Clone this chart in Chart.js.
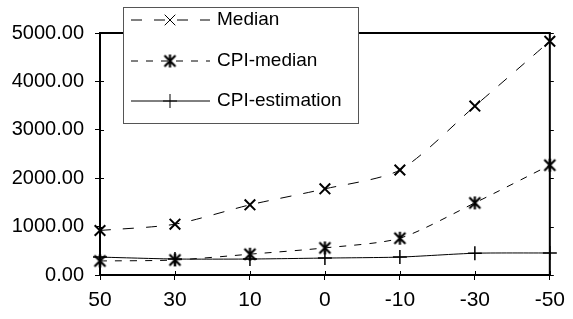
<!DOCTYPE html>
<html>
<head>
<meta charset="UTF-8">
<script src="https://cdn.jsdelivr.net/npm/chart.js"></script>
<style>
    body { margin: 0; background: #fff; }
    #wrap { width: 573px; height: 319px; }
</style>
</head>
<body>
<div id="wrap"><canvas id="c"></canvas></div>
<script>
    const xLabels = ['50', '30', '10', '0', '-10', '-30', '-50'];
    const medianVals = [920, 1050, 1450, 1780, 2170, 3490, 4830];
    const cpiMedianVals = [290, 310, 430, 560, 760, 1490, 2270];
    const cpiEstVals = [370, 330, 330, 350, 370, 450, 455];

    // asterisk marker: x with a vertical bar
    function asterisk() {
        const c = document.createElement('canvas');
        c.width = 15; c.height = 15;
        const g = c.getContext('2d');
        g.strokeStyle = '#000';
        g.lineWidth = 2.2;
        g.beginPath();
        g.moveTo(2, 2); g.lineTo(13, 13);
        g.moveTo(13, 2); g.lineTo(2, 13);
        g.moveTo(7.5, 1); g.lineTo(7.5, 14);
        g.stroke();
        return c;
    }

    // top/right frame and the small inner tick marks
    const frame = {
        id: 'frame',
        afterDatasetsDraw(chart) {
            const a = chart.chartArea, ctx = chart.ctx;
            const xs = chart.scales.x, ys = chart.scales.y;
            ctx.save();
            ctx.strokeStyle = '#000';
            ctx.lineWidth = 2;
            ctx.beginPath();
            ctx.moveTo(a.left, a.top);
            ctx.lineTo(a.right, a.top);
            ctx.lineTo(a.right, a.bottom);
            ctx.stroke();
            ctx.lineWidth = 1;
            ctx.beginPath();
            xs.ticks.forEach((t, i) => {
                const x = Math.round(xs.getPixelForTick(i)) + 0.5;
                ctx.moveTo(x, a.bottom);
                ctx.lineTo(x, a.bottom - 4);
            });
            ys.ticks.forEach((t, i) => {
                const y = Math.round(ys.getPixelForTick(i)) + 0.5;
                ctx.moveTo(a.left, y);
                ctx.lineTo(a.left + 4, y);
                ctx.moveTo(a.right, y);
                ctx.lineTo(a.right + 4, y);
            });
            ctx.stroke();
            ctx.restore();
        }
    };

    const boxLegend = {
        id: 'boxLegend',
        afterDraw(chart) {
            const ctx = chart.ctx;
            ctx.save();
            ctx.fillStyle = '#fff';
            ctx.fillRect(123, 7, 235, 116);
            ctx.strokeStyle = '#555';
            ctx.lineWidth = 1;
            ctx.strokeRect(123.5, 7.5, 235, 116);
            const rows = [20, 61, 101];
            chart.data.datasets.forEach((ds, i) => {
                const y = rows[i];
                ctx.strokeStyle = '#000';
                ctx.lineWidth = 1;
                ctx.setLineDash(ds.borderDash || []);
                ctx.beginPath();
                ctx.moveTo(131, y);
                ctx.lineTo(210, y);
                ctx.stroke();
                ctx.setLineDash([]);
                Chart.helpers.drawPoint(ctx, {
                    pointStyle: ds.pointStyle,
                    radius: ds.pointRadius,
                    rotation: 0,
                    borderWidth: ds.pointBorderWidth
                }, 170, y);
                ctx.fillStyle = '#000';
                ctx.font = '19px "Liberation Sans", Arial, sans-serif';
                ctx.textAlign = 'left';
                ctx.textBaseline = 'middle';
                ctx.fillText(ds.label, 217, y);
            });
            ctx.restore();
        }
    };

    new Chart(document.getElementById('c'), {
        type: 'line',
        data: {
            labels: xLabels,
            datasets: [{
                label: 'Median',
                data: medianVals,
                borderColor: '#000',
                borderWidth: 1,
                borderDash: [11, 12],
                pointStyle: 'crossRot',
                pointRadius: 7.5,
                pointBorderWidth: 2,
                pointBorderColor: '#000',
                tension: 0.25
            }, {
                label: 'CPI-median',
                data: cpiMedianVals,
                borderColor: '#000',
                borderWidth: 1,
                borderDash: [7, 8],
                pointStyle: asterisk(),
                pointRadius: 7,
                pointBorderWidth: 2,
                pointBorderColor: '#000',
                tension: 0.25
            }, {
                label: 'CPI-estimation',
                data: cpiEstVals,
                borderColor: '#000',
                borderWidth: 1,
                pointStyle: 'cross',
                pointRadius: 7,
                pointBorderWidth: 1.5,
                pointBorderColor: '#000',
                tension: 0.2
            }]
        },
        options: {
            responsive: true,
            maintainAspectRatio: false,
            animation: false,
            clip: false,
            layout: { padding: { top: 33, right: 18, left: 0, bottom: 0 } },
            plugins: { legend: { display: false }, tooltip: { enabled: false } },
            scales: {
                x: {
                    offset: false,
                    afterFit: s => { s.height = 44; },
                    grid: { drawOnChartArea: false, tickLength: 5, color: '#000' },
                    border: { color: '#000', width: 2 },
                    ticks: {
                        color: '#000',
                        padding: 8,
                        maxRotation: 0,
                        font: { family: '"Liberation Sans", Arial, sans-serif', size: 21 }
                    }
                },
                y: {
                    min: 0,
                    max: 5000,
                    afterFit: s => { s.width = 100; },
                    grid: { drawOnChartArea: false, tickLength: 5, color: '#000' },
                    border: { color: '#000', width: 2 },
                    ticks: {
                        stepSize: 1000,
                        color: '#000',
                        padding: 11,
                        callback: v => v.toFixed(2),
                        font: { family: '"Liberation Sans", Arial, sans-serif', size: 20 }
                    }
                }
            }
        },
        plugins: [frame, boxLegend]
    });
</script>
</body>
</html>
